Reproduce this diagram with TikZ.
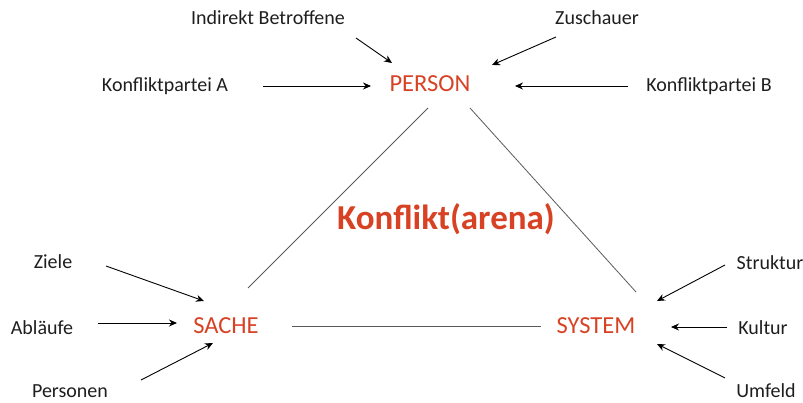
\documentclass[tikz,border=0pt]{standalone}
\usepackage{fontspec}
\setmainfont{Carlito}
\usetikzlibrary{arrows.meta}
\definecolor{kred}{RGB}{216,66,36}
\definecolor{ktext}{RGB}{30,30,30}
\definecolor{kline}{RGB}{90,90,90}
\tikzset{
  lbl/.style={text=ktext, font=\fontsize{20}{22}\selectfont, inner sep=0pt},
  pole/.style={text=kred, font=\fontsize{24.5}{26}\selectfont, inner sep=0pt},
  title/.style={text=kred, font=\bfseries\fontsize{35}{38}\selectfont, inner sep=0pt},
  arr/.style={draw=black, line width=0.9pt, -{Stealth[length=8pt,width=7pt]}},
  side/.style={draw=kline, line width=0.8pt}
}
\begin{document}
\begin{tikzpicture}[x=1pt,y=-1pt]
\useasboundingbox (0,0) rectangle (803,403);
% nodes
\node[pole] (person) at (430,84) {PERSON};
\node[pole] (sache) at (226,326) {SACHE};
\node[pole] (system) at (596,326) {SYSTEM};
\node[title] (konf) at (446,219) {Konflikt(arena)};
\node[lbl] (indirekt) at (268,18) {Indirekt Betroffene};
\node[lbl] (zusch) at (597,18) {Zuschauer};
\node[lbl] (kpa) at (165,86) {Konfliktpartei A};
\node[lbl] (kpb) at (709,86) {Konfliktpartei B};
\node[lbl] (ziele) at (53,262) {Ziele};
\node[lbl] (ablaeufe) at (42,328) {Abläufe};
\node[lbl] (personen) at (70,391) {Personen};
\node[lbl] (struktur) at (770,263) {Struktur};
\node[lbl] (kultur) at (763,328) {Kultur};
\node[lbl] (umfeld) at (766,391) {Umfeld};
% connector ends
\coordinate (a1s) at (356,38);  \coordinate (a1e) at (392,63);
\coordinate (a2s) at (556,37);  \coordinate (a2e) at (492,65);
\coordinate (a3s) at (263,86);  \coordinate (a3e) at (371,86);
\coordinate (a4s) at (628,86);  \coordinate (a4e) at (515,86);
\coordinate (a5s) at (106,266); \coordinate (a5e) at (204,301);
\coordinate (a6s) at (98,323);  \coordinate (a6e) at (177,323);
\coordinate (a7s) at (141,380); \coordinate (a7e) at (213,343);
\coordinate (a8s) at (725,265); \coordinate (a8e) at (657,301);
\coordinate (a9s) at (727,327); \coordinate (a9e) at (671,327);
\coordinate (a10s) at (725,378); \coordinate (a10e) at (657,344);
\coordinate (ps1) at (428,108); \coordinate (ps2) at (248,288);
\coordinate (py1) at (470,108); \coordinate (py2) at (636,292);
\coordinate (sy1) at (292,326); \coordinate (sy2) at (541,326);
% arrows
\draw[arr] (a1s) -- (a1e);
\draw[arr] (a2s) -- (a2e);
\draw[arr] (a3s) -- (a3e);
\draw[arr] (a4s) -- (a4e);
\draw[arr] (a5s) -- (a5e);
\draw[arr] (a6s) -- (a6e);
\draw[arr] (a7s) -- (a7e);
\draw[arr] (a8s) -- (a8e);
\draw[arr] (a9s) -- (a9e);
\draw[arr] (a10s) -- (a10e);
% triangle
\draw[side] (ps1) -- (ps2);
\draw[side] (py1) -- (py2);
\draw[side] (sy1) -- (sy2);
\end{tikzpicture}
\end{document}
